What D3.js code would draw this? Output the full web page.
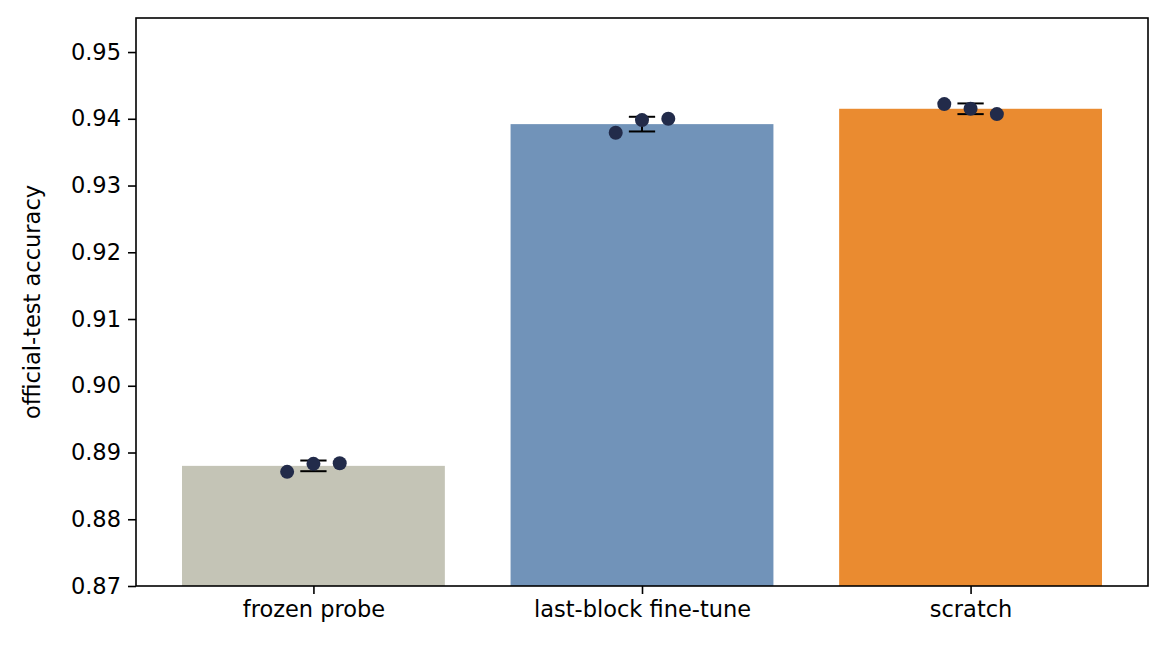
<!DOCTYPE html><html><head><meta charset="utf-8">
<script src="https://cdn.jsdelivr.net/npm/d3@7"></script>
<style>body{margin:0;background:#fff}text{font-family:"DejaVu Sans",sans-serif}</style></head><body>
<svg id="c" width="1174" height="651"></svg>
<script>
const categories=["frozen probe","last-block fine-tune","scratch"];
const barMeans=[0.8880,0.9392,0.9415];
const runs=[[0.8871,0.8883,0.8884],[0.9379,0.9398,0.9400],[0.9422,0.9415,0.9407]];
const errs=[0.0008,0.0011,0.0008];
const colors=["#c4c4b6","#7193b9","#ea8b30"];
const yTicks=[0.87,0.88,0.89,0.90,0.91,0.92,0.93,0.94,0.95];
const svg=d3.select("#c");
const L=136,R=1148,T=18,B=586,fs=22.5;
const x=d3.scaleLinear().domain([-0.54,2.54]).range([L,R]);
const y=d3.scaleLinear().domain([0.87,0.9551]).range([B,T]);
const bw=x(0.8)-x(0);
svg.selectAll("rect.b").data(barMeans).join("rect").attr("x",(d,i)=>x(i)-bw/2).attr("width",bw)
 .attr("y",d=>y(d)).attr("height",d=>B-y(d)).attr("fill",(d,i)=>colors[i]);
const cw=x(0.04)-x(0);
barMeans.forEach((m,i)=>{
 const g=svg.append("g").attr("stroke","#000").attr("stroke-width",2);
 g.append("line").attr("x1",x(i)).attr("x2",x(i)).attr("y1",y(m-errs[i])).attr("y2",y(m+errs[i]));
 [m-errs[i],m+errs[i]].forEach(v=>g.append("line").attr("x1",x(i)-cw).attr("x2",x(i)+cw).attr("y1",y(v)).attr("y2",y(v)));
 runs[i].forEach((v,j)=>svg.append("circle").attr("cx",x(i+(j-1)*0.08)).attr("cy",y(v)).attr("r",7).attr("fill","#222b4a"));
});
const ya=svg.append("g").attr("transform",`translate(${L},0)`).call(d3.axisLeft(y).tickValues(yTicks).tickFormat(d3.format(".2f")).tickSizeOuter(0).tickSize(8).tickPadding(7));
const xa=svg.append("g").attr("transform",`translate(0,${B})`).call(d3.axisBottom(x).tickValues([0,1,2]).tickFormat(i=>categories[i]).tickSizeOuter(0).tickSize(8).tickPadding(7));
[ya,xa].forEach(a=>{a.selectAll("text").attr("font-size",fs).attr("fill","#000").style("font-family","DejaVu Sans");a.selectAll("line").attr("stroke","#000").attr("stroke-width",1.6);a.select(".domain").remove();});
svg.append("rect").attr("x",L).attr("y",T).attr("width",R-L).attr("height",B-T).attr("fill","none").attr("stroke","#000").attr("stroke-width",1.6);
svg.append("text").attr("transform",`translate(40,${(T+B)/2}) rotate(-90)`).attr("text-anchor","middle").attr("font-size",fs).text("official-test accuracy");
</script></body></html>
